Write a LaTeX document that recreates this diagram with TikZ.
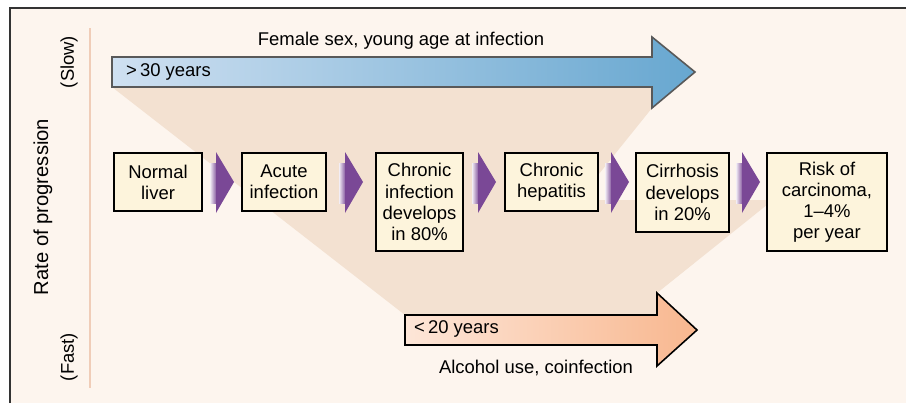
\documentclass[tikz,border=0pt]{standalone}
\usepackage{fontspec}
\setmainfont{Liberation Sans}
\usetikzlibrary{calc}
\definecolor{Paper}{HTML}{FDF5EE}
\definecolor{Beam}{HTML}{F3E1D1}
\definecolor{BoxFill}{HTML}{FDF4DC}
\definecolor{Plum}{HTML}{7A4896}
\definecolor{SkyL}{HTML}{CFE0F1}
\definecolor{SkyD}{HTML}{67A7D0}
\definecolor{PeachL}{HTML}{FDE6D8}
\definecolor{PeachD}{HTML}{F8B78F}
\definecolor{Rule}{HTML}{F0CDB8}

\begin{document}
\begin{tikzpicture}[x=0.02cm,y=-0.02cm,
  stage/.style={draw=black,line width=1.1pt,fill=BoxFill,align=center,anchor=north,inner sep=2pt,font=\fontsize{10.5}{12}\selectfont},
  lab/.style={font=\fontsize{10.5}{12}\selectfont}]
\useasboundingbox (0,0) rectangle (906,403);
\fill[Paper] (10,8) rectangle (906,403);
\draw[black!80,line width=1.1pt] (10,403) -- (10,8) -- (906,8);
\draw[Rule,line width=0.6pt] (90,28) -- (90,388);
% shadow between the two rate arrows
\shade[top color=Beam,middle color=Paper,bottom color=Beam] (112,87) -- (652,87) -- (652,108) -- (578,200) -- (773,200) -- (657,293) -- (657,315) -- (405,315) -- cycle;
% slow arrow
\draw[draw=black!65,line width=0.9pt,left color=SkyL,right color=SkyD] (112,57) -- (652,57) -- (652,37) -- (695,72) -- (652,108) -- (652,87) -- (112,87) -- cycle;
\node[lab,anchor=west] (slowtag) at (120,72) {>\,30 years};
\node[lab] (slowcap) at (401,41) {Female sex, young age at infection};
% fast arrow
\draw[draw=black,line width=0.9pt,left color=PeachL,right color=PeachD] (405,315) -- (657,315) -- (657,293) -- (697,330) -- (657,366) -- (657,345) -- (405,345) -- cycle;
\node[lab,anchor=west] (fasttag) at (408,329) {<\,20 years};
\node[lab] (fastcap) at (536,368) {Alcohol use, coinfection};
% axis labels
\node[lab,rotate=90] (slow) at (69,62) {(Slow)};
\node[lab,rotate=90] (fast) at (69,357) {(Fast)};
\node[font=\fontsize{11.5}{13}\selectfont,rotate=90] (rate) at (43,207) {Rate of progression};
% stages
\node[stage,minimum width=1.76cm,minimum height=1.16cm] (liver) at (158,152) {Normal\\liver};
\node[stage,minimum width=1.68cm,minimum height=1.16cm] (acute) at (284,152) {Acute\\infection};
\node[stage,minimum width=1.74cm,minimum height=1.96cm] (chronic) at (419.5,152) {Chronic\\infection\\develops\\in 80\%};
\node[stage,minimum width=1.86cm,minimum height=1.16cm] (hepat) at (551.5,152) {Chronic\\hepatitis};
\node[stage,minimum width=1.86cm,minimum height=1.58cm] (cirr) at (682.5,152) {Cirrhosis\\develops\\in 20\%};
\node[stage,minimum width=2.40cm,minimum height=1.96cm] (carc) at (827,152) {Risk of\\carcinoma,\\1--4\%\\per year};
\foreach \a/\b in {liver/acute,acute/chronic,chronic/hepat,hepat/cirr,cirr/carc} {
  \coordinate (m) at ($(\a.north east)!0.5!(\b.north west)$);
  \fill[left color=Plum!10,right color=Plum] ($(m)+(-12,11)$) rectangle ($(m)+(-5,51)$);
  \fill[Plum] ($(m)+(-6,0)$) -- ($(m)+(12,30)$) -- ($(m)+(-6,61)$) -- cycle;
}
\end{tikzpicture}
\end{document}
